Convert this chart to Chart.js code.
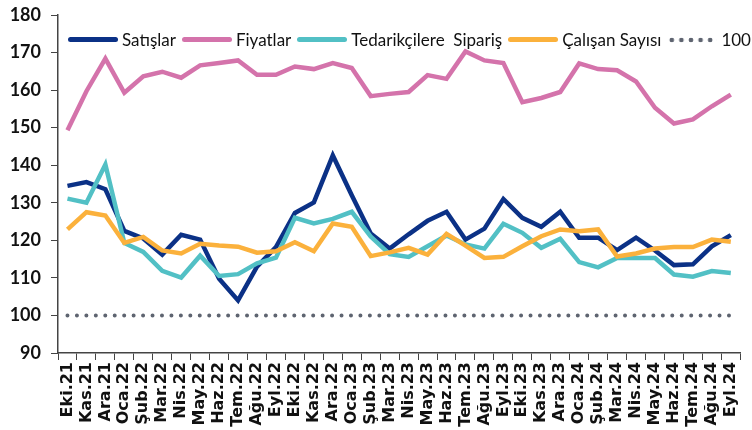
<!DOCTYPE html>
<html lang="tr">
<head>
<meta charset="utf-8">
<script src="https://cdn.jsdelivr.net/npm/chart.js@4.4.1/dist/chart.umd.min.js"></script>
<style>
  html, body { margin: 0; padding: 0; background: #fff; }
  .wrap { position: relative; width: 752px; height: 430px; overflow: hidden; }
  .legend {
    position: absolute; left: 68px; top: 29px; display: flex; align-items: center;
    font-family: 'Lato', sans-serif; font-size: 17px; color: #111; white-space: nowrap;
  }
  .item { display: flex; align-items: center; margin-right: 6px; }
  .swatch { width: 50px; height: 5px; border-radius: 3px; margin-right: 4px; }
  .dots {
    width: 50px; height: 6px; margin-right: 4px;
    background: radial-gradient(circle, #5e6470 2px, transparent 2.6px) repeat-x;
    background-size: 9.6px 6px;
  }
</style>
</head>
<body>
<div class="wrap">
  <canvas id="chart" width="752" height="430"></canvas>
  <div class="legend" id="legend"></div>
</div>
<script>
const labels = ['Eki.21','Kas.21','Ara.21','Oca.22','Şub.22','Mar.22','Nis.22','May.22','Haz.22','Tem.22','Ağu.22','Eyl.22',
  'Eki.22','Kas.22','Ara.22','Oca.23','Şub.23','Mar.23','Nis.23','May.23','Haz.23','Tem.23','Ağu.23','Eyl.23',
  'Eki.23','Kas.23','Ara.23','Oca.24','Şub.24','Mar.24','Nis.24','May.24','Haz.24','Tem.24','Ağu.24','Eyl.24'];

const satislar = [134.5,135.5,133.6,122.5,120.5,116.2,121.5,120.2,109.8,104.0,113.0,118.2,
  127.3,130.1,142.6,132.0,121.8,117.8,121.6,125.2,127.6,120.2,123.1,131.0,
  126.0,123.6,127.6,120.7,120.7,117.4,120.7,117.3,113.4,113.6,118.4,121.4];

const fiyatlar = [149.3,159.7,168.4,159.3,163.7,164.9,163.3,166.6,167.2,167.9,164.1,164.1,
  166.3,165.6,167.2,165.9,158.4,159.0,159.5,164.0,163.0,170.3,167.9,167.2,
  156.8,157.9,159.5,167.1,165.6,165.3,162.3,155.3,151.1,152.2,155.7,158.8];

const tedarikci = [131.1,130.0,140.2,119.3,116.9,111.9,110.1,115.9,110.5,111.0,113.9,115.4,
  126.0,124.5,125.7,127.6,121.0,116.3,115.6,118.4,121.3,118.9,117.8,124.4,
  122.0,118.0,120.4,114.2,112.8,115.3,115.3,115.3,110.9,110.3,111.8,111.3];

const calisan = [122.9,127.5,126.6,119.3,120.9,117.3,116.5,119.1,118.6,118.3,116.7,117.1,
  119.5,117.1,124.5,123.6,115.8,116.8,118.0,116.2,121.7,118.6,115.3,115.6,
  118.4,121.1,122.9,122.4,122.9,115.7,116.5,117.8,118.2,118.2,120.2,119.6];

const esik = [100,100,100,100,100,100,100,100,100,100,100,100,
  100,100,100,100,100,100,100,100,100,100,100,100,
  100,100,100,100,100,100,100,100,100,100,100,100];

const yTicks = [90, 100, 110, 120, 130, 140, 150, 160, 170, 180];

const colors = { satis: '#0b3186', fiyat: '#d473ab', tedarik: '#52c0c5', calisan: '#fbb13c', esik: '#5e6470' };

function series(label, data, color, order) {
  return { label, data, borderColor: color, backgroundColor: color, borderWidth: 4.5,
    pointRadius: 0, pointHoverRadius: 0, tension: 0, fill: false, order };
}

const datasets = [
  series('Satışlar', satislar, colors.satis, 4),
  series('Fiyatlar', fiyatlar, colors.fiyat, 3),
  series('Tedarikçilere  Sipariş', tedarikci, colors.tedarik, 2),
  series('Çalışan Sayısı', calisan, colors.calisan, 1),
  { ...series('100', esik, colors.esik, 5), borderWidth: 4, borderDash: [0, 9.45], borderCapStyle: 'round' },
];

// legend as html, sits over the plot like the original
const legendEl = document.getElementById('legend');
datasets.forEach(ds => {
  const item = document.createElement('div');
  item.className = 'item';
  const sw = document.createElement('span');
  if (ds.borderDash) { sw.className = 'dots'; }
  else { sw.className = 'swatch'; sw.style.background = ds.borderColor; }
  const txt = document.createElement('span');
  txt.textContent = ds.label;
  txt.style.whiteSpace = 'pre';
  item.appendChild(sw);
  item.appendChild(txt);
  legendEl.appendChild(item);
});

const xFont = { family: "'DejaVu Sans', sans-serif", size: 16, weight: 'bold' };
const yFont = { family: "'Lato', sans-serif", size: 18, weight: 'bold' };
const axisColor = '#444';

new Chart(document.getElementById('chart'), {
  type: 'line',
  data: { labels, datasets },
  options: {
    responsive: false,
    animation: false,
    layout: { padding: { left: 8, right: 0, top: 0, bottom: 0 } },
    plugins: { legend: { display: false }, tooltip: { enabled: false } },
    scales: {
      x: {
        offset: true,
        afterFit: (scale) => { scale.height = 77; },   // labels run off the bottom, as in the original
        grid: { offset: true, drawOnChartArea: false, drawTicks: true, tickLength: 7, color: axisColor, lineWidth: 1 },
        border: { color: axisColor, width: 1.5 },
        ticks: { autoSkip: false, minRotation: 90, maxRotation: 90, padding: 2, color: '#111', font: xFont },
      },
      y: {
        min: 90, max: 180,
        afterFit: (scale) => { scale.width = 50; scale.paddingTop = 15; },
        afterBuildTicks: (axis) => { axis.ticks = yTicks.map(v => ({ value: v })); },
        grid: { drawOnChartArea: false, drawTicks: true, tickLength: 7, color: axisColor, lineWidth: 1 },
        border: { color: axisColor, width: 1.5 },
        ticks: { padding: 10, color: '#111', font: yFont },
      },
    },
  },
});
</script>
</body>
</html>
